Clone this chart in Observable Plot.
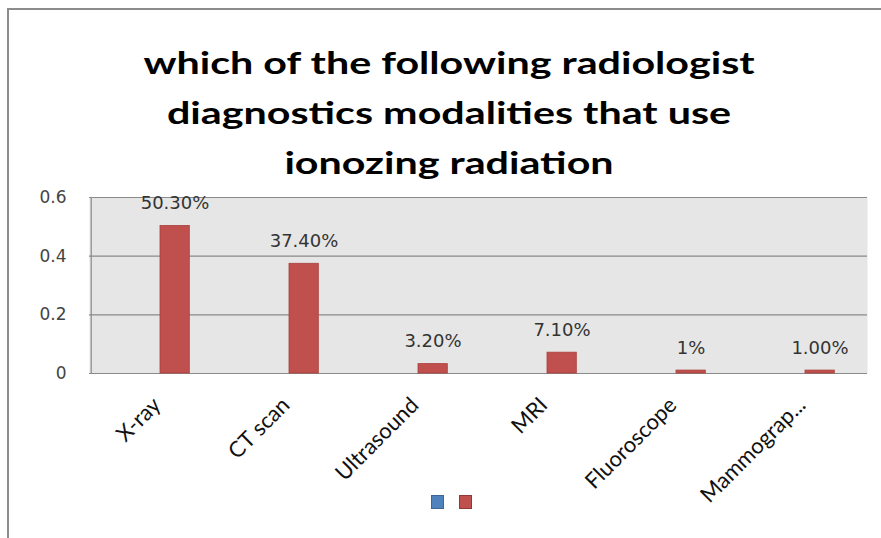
<!DOCTYPE html>
<html>
<head>
<meta charset="utf-8">
<script src="https://cdn.jsdelivr.net/npm/d3@7"></script>
<script src="https://cdn.jsdelivr.net/npm/@observablehq/plot@0.6"></script>
<style>
  html, body { margin: 0; padding: 0; background: #fff; }
  #wrap { position: relative; width: 881px; height: 538px; overflow: hidden; }
  #frame { position: absolute; left: 7px; top: 8px; width: 900px; height: 560px;
           border-left: 2px solid #8c8c8c; border-top: 2px solid #8c8c8c; }
  #title { position: absolute; left: 0; top: 37px; width: 898px; text-align: center;
           font-family: Lato, sans-serif; font-weight: 700; font-size: 31px; line-height: 50px; color: #000;
           transform: scaleX(1.33); transform-origin: 449px 0; }
  #chart { position: absolute; left: 0; top: 185px; }
  #legend { position: absolute; left: 431px; top: 495px; display: flex; gap: 15px; }
  .sw { width: 13px; height: 14px; box-sizing: border-box; }
</style>
</head>
<body>
<div id="wrap">
  <div id="frame"></div>
  <div id="title">which of the following radiologist<br>diagnostics modalities that use<br>ionozing radiation</div>
  <div id="chart"></div>
  <div id="legend">
    <div class="sw" style="background:#4f81bd;border:1px solid #3a6595"></div>
    <div class="sw" style="background:#c0504d;border:1px solid #8f3a38"></div>
  </div>
</div>
<script>
const categories = ["X-ray", "CT scan", "Ultrasound", "MRI", "Fluoroscope", "Mammograp..."];
const values = [0.503, 0.374, 0.032, 0.071, 0.01, 0.01];
const valueLabels = ["50.30%", "37.40%", "3.20%", "7.10%", "1%", "1.00%"];
const yTicks = [0, 0.2, 0.4, 0.6];
const yTickLabels = ["0", "0.2", "0.4", "0.6"];

const data = categories.map((c, i) => ({cat: c, value: values[i], label: valueLabels[i]}));

const chart = Plot.plot({
  width: 881,
  height: 300,
  marginTop: 12,
  marginBottom: 112,
  marginLeft: 89,
  marginRight: 14,
  style: {background: "transparent", overflow: "visible"},
  x: {domain: categories, padding: 0, label: null},
  y: {domain: [0, 0.6], label: null},
  marks: [
    Plot.frame({fill: "#e6e6e6", stroke: null}),
    Plot.ruleY(yTicks, {stroke: "#8a8a8a", strokeWidth: 1.2}),
    Plot.ruleX([categories[0]], {stroke: "#8a8a8a", strokeWidth: 1.2, dx: -64.8, y1: 0, y2: 0.6}),
    Plot.barY(data, {x: "cat", y: "value", fill: "#c0504d", stroke: "#a8403d", strokeWidth: 0.8, insetLeft: 69, insetRight: 30.7}),
    Plot.text(data, {x: "cat", y: "value", text: "label", dx: 19, dy: -17, lineAnchor: "bottom",
      fontFamily: "DejaVu Sans", fontSize: 18, fill: "#333", letterSpacing: 1.3}),
    Plot.axisX({tickRotate: -45, tickSize: 0, tickPadding: 28, dx: 1, label: null,
      fontFamily: "Lato, sans-serif", fontSize: 22, fill: "#111", letterSpacing: 1.2}),
    Plot.axisY({ticks: yTicks, tickFormat: (d) => yTickLabels[yTicks.indexOf(d)], tickSize: 0, tickPadding: 23, label: null,
      fontFamily: "DejaVu Sans", fontSize: 17, fill: "#444", letterSpacing: 1})
  ]
});
document.getElementById("chart").appendChild(chart);
</script>
</body>
</html>
